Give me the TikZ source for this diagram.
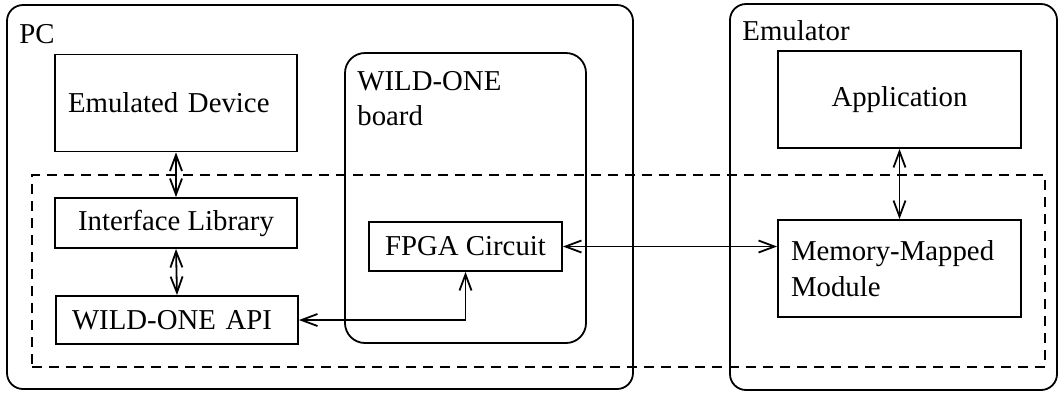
\documentclass[tikz,border=0pt]{standalone}
\usepackage{fontspec}
\setmainfont{Liberation Serif}
\usetikzlibrary{arrows.meta}
\begin{document}
\begin{tikzpicture}[x=0.5pt,y=-0.5pt,
  every node/.style={font=\fontsize{14.4}{18}\selectfont},
  box/.style={draw,line width=0.9pt,inner sep=0pt,align=center},
  group/.style={draw,line width=0.9pt,rounded corners=#1,inner sep=0pt},
  lbl/.style={anchor=base west,inner sep=0pt},
  dashbox/.style={draw,line width=0.9pt,dash pattern=on 5pt off 3.5pt,inner sep=0pt},
  link/.style={line width=0.9pt,{Straight Barb[length=8pt,width=6pt]}-{Straight Barb[length=8pt,width=6pt]}}
]
\useasboundingbox (0,0) rectangle (1060,393);
% outer groups
\node[group=8pt,minimum width=313pt,minimum height=192pt] (pc) at (320,197) {};
\node[lbl] (pclbl) at (19,43) {PC};
\node[group=8pt,minimum width=163.5pt,minimum height=193pt] (emu) at (893.5,197) {};
\node[lbl] (emulbl) at (742,40) {Emulator};
\node[group=10pt,minimum width=120.5pt,minimum height=145pt] (board) at (465.5,198) {};
\node[lbl] (boardlbl1) at (357,90) {WILD-ONE};
\node[lbl] (boardlbl2) at (357,125) {board};
% dashed region
\node[dashbox,minimum width=506.5pt,minimum height=96pt] (dash) at (538.5,271) {};
% boxes
\node[box,align=left,inner xsep=6.5pt,text width=108pt,minimum height=48.5pt] (ed) at (176,103) {Emulated Device};
\node[box,minimum width=121pt,minimum height=25pt] (il) at (176,223) {Interface Library};
\node[box,align=left,inner xsep=8pt,text width=105pt,minimum height=24pt] (api) at (177,320) {WILD-ONE API};
\node[box,minimum width=96.5pt,minimum height=24.5pt] (fpga) at (465.5,246.5) {FPGA Circuit};
\node[box,minimum width=121.5pt,minimum height=48.5pt] (app) at (899.5,99.5) {Application};
\node[box,align=left,inner xsep=6.5pt,text width=108.5pt,minimum height=48.5pt] (mmm) at (899.5,268.5) {Memory-Mapped\\Module};
% connectors
\draw[link] (ed.south) -- (il.north);
\draw[link] (il.south) -- (api.north);
\draw[link] (api.east) -| (fpga.south);
\draw[link] (fpga.east) -- (fpga.east -| mmm.west);
\draw[link] (app.south) -- (mmm.north);
\end{tikzpicture}
\end{document}
